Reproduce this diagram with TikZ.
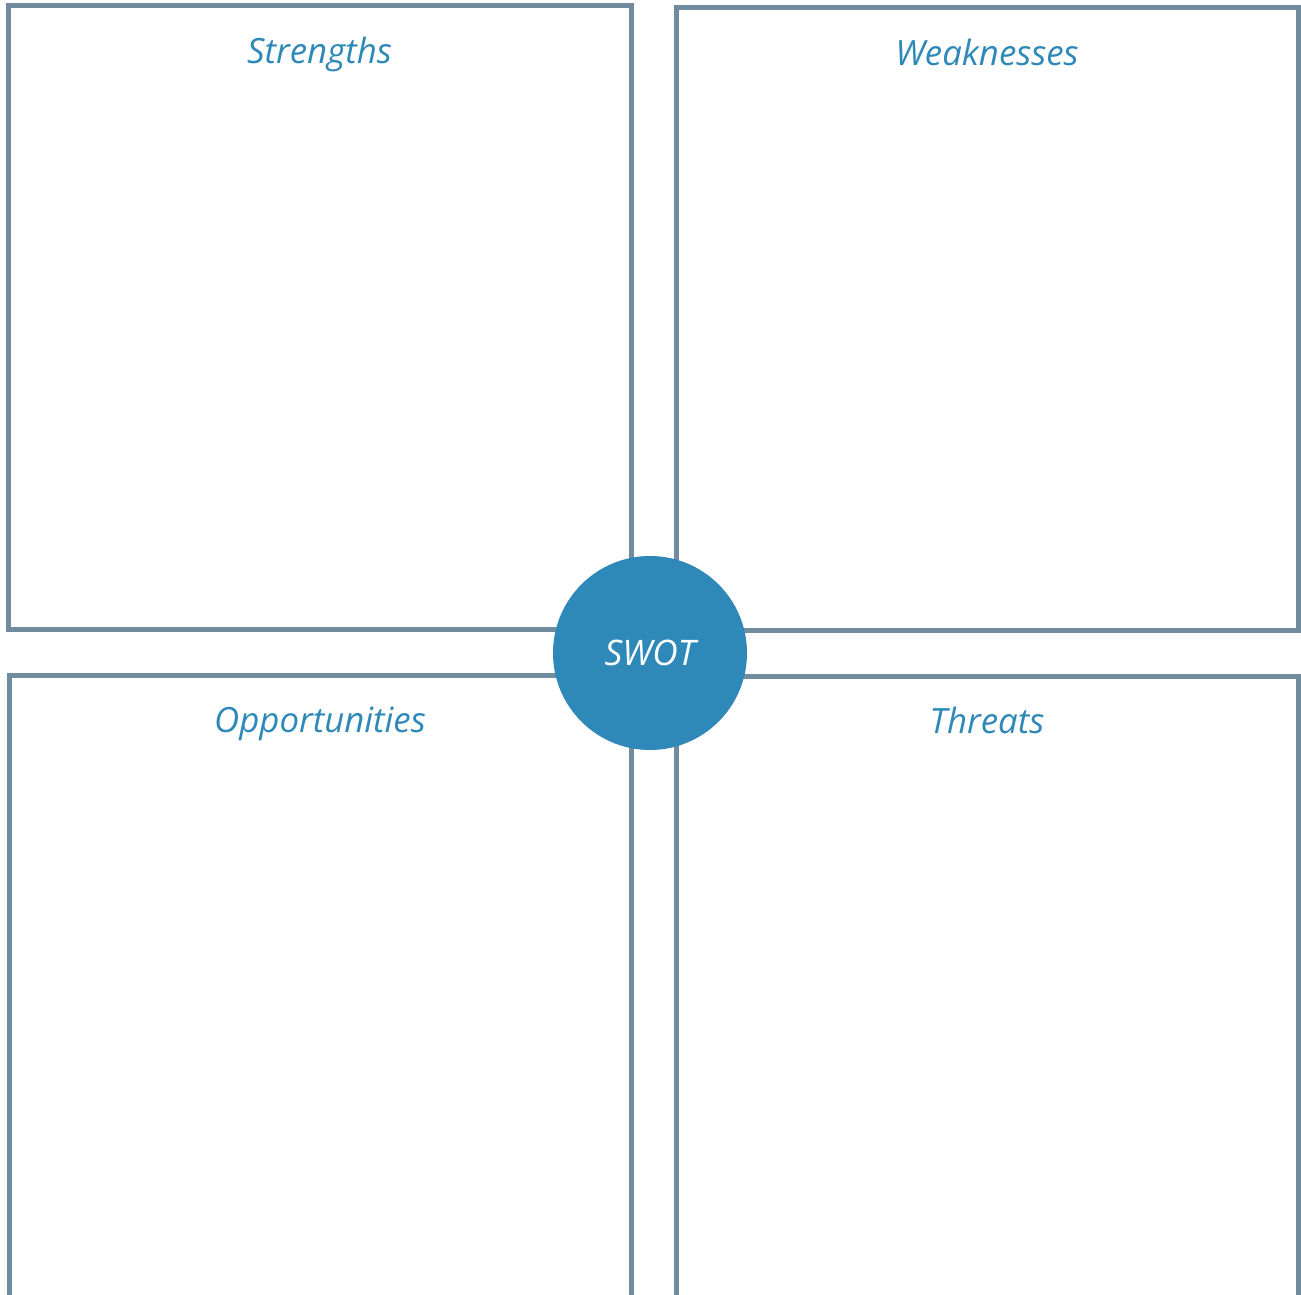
\documentclass[tikz,border=0pt]{standalone}
\usepackage{fontspec}
\setmainfont{Open Sans}
\usepackage{tikz}
\usetikzlibrary{positioning}

\definecolor{framegray}{RGB}{112,140,158}
\definecolor{swotblue}{RGB}{46,137,184}

\begin{document}
\begin{tikzpicture}[x=0.5pt, y=-0.5pt,
    quadrant/.style={draw=framegray, line width=2.5pt, rectangle, inner sep=0pt},
    title/.style={text=swotblue, font=\fontsize{17.4}{21}\selectfont\itshape},
    hub/.style={circle, fill=swotblue, inner sep=0pt, minimum size=97pt,
      text=white, font=\fontsize{17.6}{21}\selectfont\itshape}]
  \useasboundingbox (0,0) rectangle (1301,1295);

  % Four quadrants
  \node[quadrant, minimum width=311.5pt, minimum height=311.5pt] (strengths) at (319.5,317.5) {};
  \node[quadrant, minimum width=311pt, minimum height=311pt] (weaknesses) at (987,319) {};
  \node[quadrant, minimum width=311pt, minimum height=311pt] (opportunities) at (320,986) {};
  \node[quadrant, minimum width=311pt, minimum height=311pt] (threats) at (987,987) {};

  % Headings, baseline set below the top edge
  \node[title, below=30pt of strengths.north, anchor=base] (strengths-title) {Strengths};
  \node[title, below=30pt of weaknesses.north, anchor=base] (weaknesses-title) {Weaknesses};
  \node[title, below=30pt of opportunities.north, anchor=base] (opportunities-title) {Opportunities};
  \node[title, below=30pt of threats.north, anchor=base] (threats-title) {Threats};

  % Centre disc
  \node[hub] (swot) at (650,653) {SWOT};
\end{tikzpicture}
\end{document}
